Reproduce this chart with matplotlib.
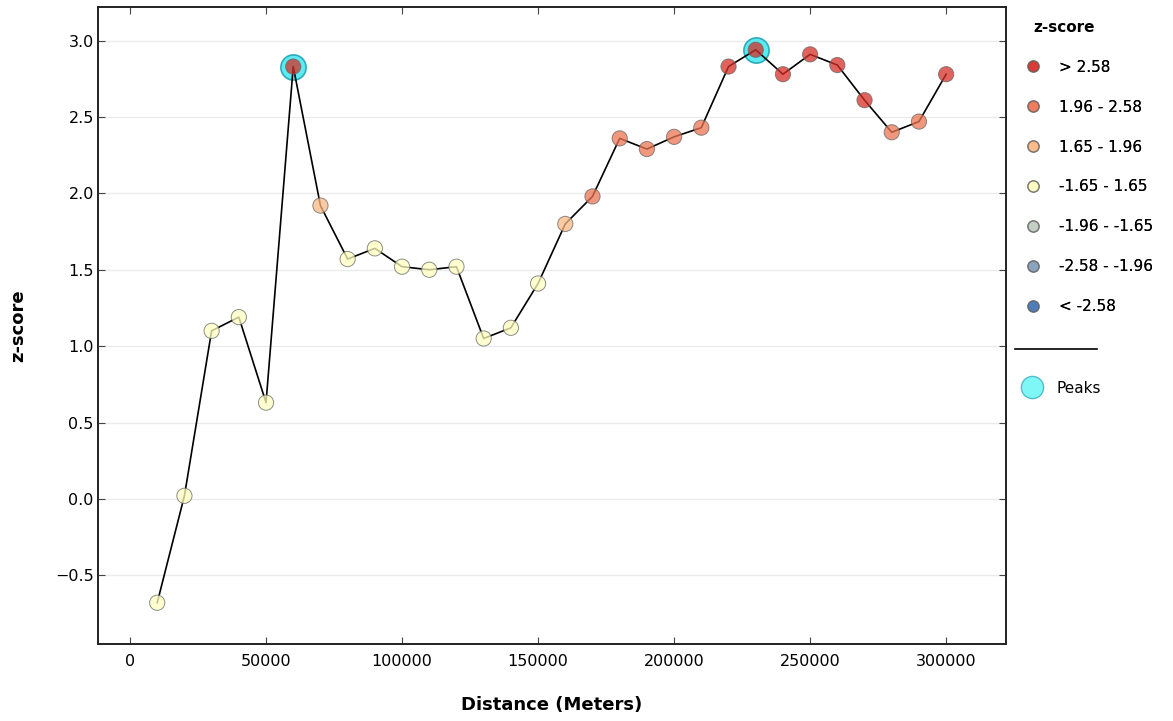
import matplotlib
matplotlib.use("Agg")
import matplotlib.pyplot as plt
from matplotlib.lines import Line2D

# distance bands (meters) and the z-score found at each one
distance = [10000, 20000, 30000, 40000, 50000, 60000, 70000, 80000, 90000, 100000,
            110000, 120000, 130000, 140000, 150000, 160000, 170000, 180000, 190000, 200000,
            210000, 220000, 230000, 240000, 250000, 260000, 270000, 280000, 290000, 300000]
zscore = [-0.68, 0.02, 1.10, 1.19, 0.63, 2.83, 1.92, 1.57, 1.64, 1.52,
          1.50, 1.52, 1.05, 1.12, 1.41, 1.80, 1.98, 2.36, 2.29, 2.37,
          2.43, 2.83, 2.94, 2.78, 2.91, 2.84, 2.61, 2.40, 2.47, 2.78]
peak_distance = [60000, 230000]
peak_zscore = [2.83, 2.94]

bin_labels = ["> 2.58", "1.96 - 2.58", "1.65 - 1.96", "-1.65 - 1.65",
              "-1.96 - -1.65", "-2.58 - -1.96", "< -2.58"]
bin_colors = ["#d62f27", "#ed7551", "#fab984", "#ffffbf",
              "#c0ccbe", "#849eba", "#4575b5"]


def bin_color(z):
    if z > 2.58:
        return bin_colors[0]
    if z > 1.96:
        return bin_colors[1]
    if z > 1.65:
        return bin_colors[2]
    if z >= -1.65:
        return bin_colors[3]
    if z >= -1.96:
        return bin_colors[4]
    if z >= -2.58:
        return bin_colors[5]
    return bin_colors[6]


fig = plt.figure(figsize=(11.73, 7.21), dpi=100)
ax = fig.add_axes([98 / 1173, 1 - 644 / 721, (1006 - 98) / 1173, (644 - 7) / 721])

ax.grid(axis="y", color="#ebebeb", linewidth=1, zorder=0)
ax.set_axisbelow(True)

# peaks under the points
ax.scatter(peak_distance, peak_zscore, s=330, facecolor="#40e8f0", edgecolor="#1a9fb0",
           linewidth=1.2, alpha=0.85, zorder=2)
ax.plot(distance, zscore, color="black", linewidth=1.2, zorder=3)
ax.scatter(distance, zscore, s=120, c=[bin_color(z) for z in zscore],
           edgecolor="#666666", linewidth=0.7, alpha=0.75, zorder=4)

ax.set_xlim(-11765, 322000)
ax.set_ylim(-0.95, 3.22)
ax.set_xticks([0, 50000, 100000, 150000, 200000, 250000, 300000])
ax.set_yticks([-0.5, 0.0, 0.5, 1.0, 1.5, 2.0, 2.5, 3.0])
ax.tick_params(direction="in", top=True, right=True, labelsize=11.5, length=5,
               color="#444444")
ax.tick_params(axis="x", pad=7)
ax.tick_params(axis="y", pad=3)
for sp in ax.spines.values():
    sp.set_linewidth(1.4)
    sp.set_color("#222222")

ax.set_xlabel("Distance (Meters)", fontsize=13, fontweight="bold", va="center")
ax.xaxis.set_label_coords(0.5, -0.096)
ax.set_ylabel("z-score", fontsize=13, fontweight="bold", va="center")
ax.yaxis.set_label_coords(-0.088, 0.5)

# legend: z-score bins
fig.text(1033 / 1173, 1 - 28 / 721, "z-score", fontsize=11, fontweight="bold",
         va="center", ha="left")
handles = [Line2D([], [], linestyle="none", marker="o", markersize=8,
                  markerfacecolor=col, markeredgecolor="#666666", alpha=0.75)
           for col in bin_colors]
leg = fig.legend(handles, bin_labels, loc="upper left",
                 bbox_to_anchor=(1004 / 1173, 1 - 46 / 721), frameon=False,
                 fontsize=11, labelspacing=1.63, handletextpad=0.7)
fig.add_artist(leg)

# separator and peaks entry
fig.add_artist(Line2D([1015 / 1173, 1097 / 1173], [1 - 349 / 721, 1 - 349 / 721],
                      color="black", linewidth=1.2))
peak_handle = Line2D([], [], linestyle="none", marker="o", markersize=16,
                     markerfacecolor="#7ff7f7", markeredgecolor="#50c0c8")
fig.legend([peak_handle], ["Peaks"], loc="upper left",
           bbox_to_anchor=(1003 / 1173, 1 - 367 / 721), frameon=False,
           fontsize=11, handletextpad=0.6)

fig.savefig("out.png", dpi=100)
